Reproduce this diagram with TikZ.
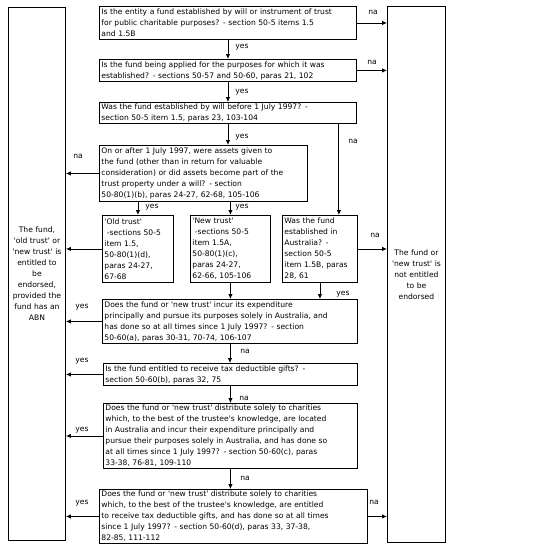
\documentclass[tikz,border=0pt]{standalone}
\usepackage{fontspec}
\setmainfont{DejaVu Sans}
\usetikzlibrary{arrows.meta}
\newcommand\sq{\textquotesingle}
\begin{document}
\begin{tikzpicture}[x=1pt,y=-1pt,
  box/.style={draw,line width=0.9pt,anchor=north west,inner xsep=2pt,inner ysep=1pt,align=left,font=\fontsize{7.6}{11}\selectfont},
  side/.style={draw,line width=0.9pt,anchor=north west,inner xsep=2pt,inner ysep=0pt,align=center,font=\fontsize{7.6}{11}\selectfont},
  arr/.style={line width=0.9pt,-{Latex[length=5pt,width=4.5pt]}},
  lbl/.style={font=\fontsize{7.6}{9}\selectfont,inner sep=0pt}]
\useasboundingbox (0,0) rectangle (554,550);
\node[side,text width=53pt,minimum height=533pt] (L) at (8,7) {The fund,\\ \sq old trust\sq\ or\\ \sq new trust\sq\ is\\ entitled to\\ be\\ endorsed,\\ provided the\\ fund has an\\ ABN};
\node[side,text width=54pt,minimum height=536pt] (R) at (387,6) {The fund or\\ \sq new trust\sq\ is\\ not entitled\\ to be\\ endorsed};
\node[box,text width=253pt,minimum height=33pt] (b1) at (99,6) {Is the entity a fund established by will or instrument of trust\\ for public charitable purposes? - section 50-5 items 1.5\\ and 1.5B};
\node[box,text width=253pt,minimum height=22pt] (b2) at (99,59) {Is the fund being applied for the purposes for which it was\\ established? - sections 50-57 and 50-60, paras 21, 102};
\node[box,text width=253pt,minimum height=21pt] (b3) at (99,102) {Was the fund established by will before 1 July 1997? -\\ section 50-5 item 1.5, paras 23, 103-104};
\node[box,text width=204pt,minimum height=56pt] (b4) at (99,145) {On or after 1 July 1997, were assets given to\\ the fund (other than in return for valuable\\ consideration) or did assets become part of the\\ trust property under a will? - section\\ 50-80(1)(b), paras 24-27, 62-68, 105-106};
\node[box,text width=67pt,minimum height=67pt] (b5a) at (102,215) {\sq Old trust\sq\\ \ -sections 50-5\\ item 1.5,\\ 50-80(1)(d),\\ paras 24-27,\\ 67-68};
\node[box,text width=76pt,minimum height=67pt] (b5b) at (190,215) {\sq New trust\sq\\ \ -sections 50-5\\ item 1.5A,\\ 50-80(1)(c),\\ paras 24-27,\\ 62-66, 105-106};
\node[box,text width=71pt,minimum height=67pt] (b5c) at (282,215) {Was the fund\\ established in\\ Australia? -\\ section 50-5\\ item 1.5B, paras\\ 28, 61};
\node[box,text width=251pt,minimum height=44pt] (b6) at (102,299) {Does the fund or \sq new trust\sq\ incur its expenditure\\ principally and pursue its purposes solely in Australia, and\\ has done so at all times since 1 July 1997? - section\\ 50-60(a), paras 30-31, 70-74, 106-107};
\node[box,text width=250pt,minimum height=22pt] (b7) at (103,363) {Is the fund entitled to receive tax deductible gifts? -\\ section 50-60(b), paras 32, 75};
\node[box,text width=250pt,minimum height=65pt] (b8) at (103,403) {Does the fund or \sq new trust\sq\ distribute solely to charities\\ which, to the best of the trustee\sq s knowledge, are located\\ in Australia and incur their expenditure principally and\\ pursue their purposes solely in Australia, and has done so\\ at all times since 1 July 1997? - section 50-60(c), paras\\ 33-38, 76-81, 109-110};
\node[box,text width=264pt,minimum height=54pt] (b9) at (99,489) {Does the fund or \sq new trust\sq\ distribute solely to charities\\ which, to the best of the trustee\sq s knowledge, are entitled\\ to receive tax deductible gifts, and has done so at all times\\ since 1 July 1997? - section 50-60(d), paras 33, 37-38,\\ 82-85, 111-112};
% vertical connectors
\draw[arr] (b1.south) -- (b2.north);
\draw[arr] (b2.south) -- (b3.north);
\draw[arr] (b3.south) -- (b3.south |- b4.north);
\coordinate (c3) at ([xshift=-19pt]b5c.north east);
\draw[arr] (c3 |- b3.south) -- (c3);
\draw[arr] (b4.south -| b5a.north) -- (b5a.north);
\draw[arr] (b4.south -| b5b.north) -- (b5b.north);
\draw[arr] (b5b.south) -- (b5b.south |- b6.north);
\draw[arr] (b5c.south) -- (b5c.south |- b6.north);
\draw[arr] (b6.south) -- (b6.south |- b7.north);
\draw[arr] (b7.south) -- (b7.south |- b8.north);
\draw[arr] (b8.south) -- (b8.south |- b9.north);
% left connectors
\draw[arr] (b4.west) -- (b4.west -| L.east);
\draw[arr] (b5a.west) -- (b5a.west -| L.east);
\draw[arr] (b6.west) -- (b6.west -| L.east);
\draw[arr] (b7.west) -- (b7.west -| L.east);
\draw[arr] (b8.west) -- (b8.west -| L.east);
\draw[arr] (b9.west) -- (b9.west -| L.east);
% right connectors
\draw[arr] (b1.east) -- (b1.east -| R.west);
\draw[arr] (b2.east) -- (b2.east -| R.west);
\draw[arr] (b5c.east) -- (b5c.east -| R.west);
\draw[arr] (b9.east) -- (b9.east -| R.west);
% labels
\node[lbl] (y1) at (242,47) {yes};
\node[lbl] (y2) at (242,92) {yes};
\node[lbl] (y3) at (242,137) {yes};
\node[lbl] (y4) at (152,207) {yes};
\node[lbl] (y5) at (242,207) {yes};
\node[lbl] (y6) at (343,294) {yes};
\node[lbl] (y7) at (82,307) {yes};
\node[lbl] (y8) at (82,361) {yes};
\node[lbl] (y9) at (82,430) {yes};
\node[lbl] (y10) at (82,503) {yes};
\node[lbl] (n1) at (373,12) {na};
\node[lbl] (n2) at (372,62) {na};
\node[lbl] (n3) at (353,141) {na};
\node[lbl] (n4) at (78,156) {na};
\node[lbl] (n5) at (375,235) {na};
\node[lbl] (n6) at (245,351) {na};
\node[lbl] (n7) at (244,398) {na};
\node[lbl] (n8) at (245,478) {na};
\node[lbl] (n9) at (374,502) {na};
\end{tikzpicture}
\end{document}
